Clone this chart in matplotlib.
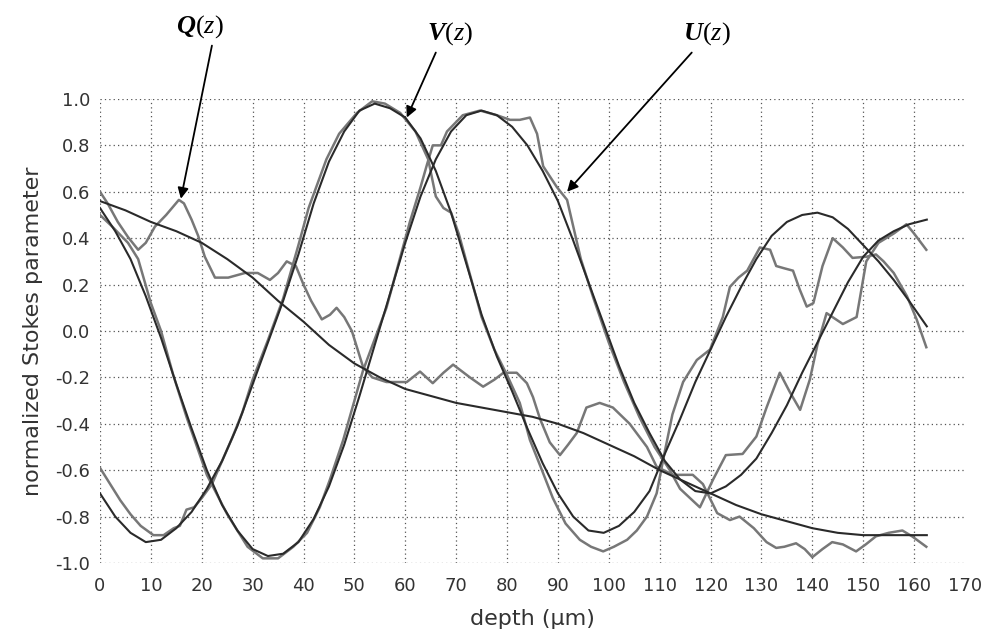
import matplotlib
matplotlib.use('Agg')
import matplotlib.pyplot as plt

# Q(z): fitted curve and measured curve
z_qfit = [0, 5, 10, 15, 20, 25, 30, 35, 40, 45, 50, 55, 60, 65, 70, 75, 80, 85, 90, 95,
          100, 105, 110, 115, 120, 125, 130, 135, 140, 145, 150, 155, 162.5]
q_fit = [0.56, 0.52, 0.47, 0.43, 0.38, 0.31, 0.23, 0.13, 0.04, -0.06, -0.14, -0.20, -0.25,
         -0.28, -0.31, -0.33, -0.35, -0.37, -0.40, -0.44, -0.49, -0.54, -0.60, -0.65, -0.70,
         -0.75, -0.79, -0.82, -0.85, -0.87, -0.88, -0.88, -0.88]

z_qmeas = [0, 1.5, 3.5, 5.5, 7.5, 9, 10.8, 13, 15.5, 16.5, 18, 19.3, 20.6, 22.6, 25.2, 28.5,
           31, 33.4, 35, 36.7, 38.5, 40, 41.5, 43.6, 45.2, 46.5, 48, 49.5, 51.7, 53.5, 56.3,
           60.3, 62.9, 65.4, 67.5, 69.4, 72.7, 75.3, 77.5, 79.3, 81.9, 83.9, 85.1, 86.5, 88.4,
           90.4, 92, 93.7, 95.6, 98.2, 100.8, 104.1, 107.5, 109.4, 112.6, 116.5, 118.5, 121.3,
           123.8, 125.7, 128.5, 131, 132.9, 134.5, 136.8, 138.5, 140, 142, 143.9, 146, 148.6,
           150.5, 152.5, 155, 157.7, 159.6, 162.4]
q_meas = [0.60, 0.55, 0.47, 0.405, 0.35, 0.38, 0.45, 0.50, 0.565, 0.55, 0.48, 0.41, 0.32,
          0.23, 0.23, 0.25, 0.25, 0.22, 0.25, 0.30, 0.28, 0.20, 0.13, 0.05, 0.07, 0.10, 0.06,
          0.0, -0.155, -0.20, -0.22, -0.22, -0.175, -0.225, -0.18, -0.145, -0.20, -0.24, -0.21,
          -0.18, -0.18, -0.225, -0.285, -0.38, -0.48, -0.535, -0.49, -0.44, -0.33, -0.31,
          -0.33, -0.40, -0.50, -0.585, -0.62, -0.62, -0.66, -0.785, -0.815, -0.80, -0.85,
          -0.91, -0.935, -0.93, -0.915, -0.94, -0.975, -0.94, -0.91, -0.92, -0.95, -0.92,
          -0.885, -0.87, -0.86, -0.885, -0.93]

# V(z)
z_vfit = [0, 3, 6, 9, 12, 15, 18, 21, 24, 27, 30, 33, 36, 39, 42, 45, 48, 51, 54, 57, 60,
          63, 66, 69, 72, 75, 78, 81, 84, 87, 90, 93, 96, 99, 102, 105, 108, 111, 114, 117,
          120, 123, 126, 129, 132, 135, 138, 141, 144, 147, 150, 153, 156, 159, 162.5]
v_fit = [-0.70, -0.80, -0.87, -0.91, -0.90, -0.85, -0.78, -0.68, -0.56, -0.41, -0.23, -0.05,
         0.13, 0.33, 0.55, 0.73, 0.86, 0.95, 0.98, 0.96, 0.92, 0.83, 0.69, 0.51, 0.29, 0.07,
         -0.11, -0.26, -0.42, -0.57, -0.70, -0.80, -0.86, -0.87, -0.84, -0.78, -0.69, -0.53,
         -0.38, -0.22, -0.08, 0.06, 0.19, 0.31, 0.41, 0.47, 0.50, 0.51, 0.49, 0.44, 0.37,
         0.30, 0.22, 0.13, 0.02]

z_vmeas = [0, 2, 4, 6, 8, 10.5, 12.5, 14.5, 15.7, 17, 18.5, 20, 22, 24, 26, 28, 30, 33, 36,
           39, 41, 44.5, 47, 50.5, 53.5, 56, 59, 62, 64.5, 66, 67.5, 69, 70.5, 72.5, 75, 77.5,
           80, 82.5, 84.5, 86.5, 89, 91.5, 94.3, 96.5, 98.9, 101, 103.6, 105.5, 107.5, 109.4,
           111, 112.5, 114.6, 117.3, 119.9, 122.4, 123.8, 125.5, 127.2, 129.7, 131.7, 132.9,
           134.5, 136.2, 137.5, 138.9, 140.2, 142, 144, 146, 147.9, 150.6, 152.5, 154, 156,
           158.6, 160.5, 162.4]
v_meas = [-0.59, -0.66, -0.73, -0.79, -0.84, -0.88, -0.88, -0.85, -0.84, -0.77, -0.76, -0.72,
          -0.66, -0.56, -0.46, -0.35, -0.21, -0.04, 0.14, 0.37, 0.53, 0.74, 0.85, 0.94, 0.99,
          0.98, 0.94, 0.86, 0.74, 0.58, 0.53, 0.51, 0.42, 0.26, 0.06, -0.08, -0.19, -0.31,
          -0.47, -0.58, -0.72, -0.83, -0.90, -0.93, -0.95, -0.93, -0.90, -0.86, -0.80, -0.70,
          -0.52, -0.36, -0.22, -0.125, -0.08, 0.06, 0.19, 0.23, 0.26, 0.36, 0.35, 0.28, 0.27,
          0.26, 0.18, 0.105, 0.12, 0.28, 0.40, 0.36, 0.315, 0.32, 0.33, 0.30, 0.25, 0.15,
          0.05, -0.07]

# U(z)
z_ufit = [0, 3, 6, 9, 12, 15, 18, 21, 24, 27, 30, 33, 36, 39, 42, 45, 48, 51, 54, 57, 60,
          63, 66, 69, 72, 75, 78, 81, 84, 87, 90, 93, 96, 99, 102, 105, 108, 111, 114, 117,
          120, 123, 126, 129, 132, 135, 138, 141, 144, 147, 150, 153, 156, 159, 162.5]
u_fit = [0.53, 0.43, 0.31, 0.15, -0.03, -0.23, -0.42, -0.60, -0.75, -0.86, -0.94, -0.97,
         -0.96, -0.91, -0.81, -0.67, -0.49, -0.28, -0.06, 0.16, 0.38, 0.58, 0.74, 0.86, 0.93,
         0.95, 0.93, 0.88, 0.80, 0.69, 0.56, 0.39, 0.21, 0.03, -0.15, -0.31, -0.44, -0.56,
         -0.64, -0.69, -0.70, -0.67, -0.62, -0.55, -0.44, -0.32, -0.18, -0.05, 0.08, 0.21,
         0.32, 0.39, 0.43, 0.46, 0.48]

z_umeas = [0, 2.4, 5.5, 7.5, 10, 12, 14.4, 17, 21, 25, 29, 32, 35, 38, 40.7, 43.2, 45.2, 47.8,
           51.7, 56.3, 60.9, 63, 64.3, 65.4, 67, 68.2, 71.3, 74.7, 78, 80.6, 82.5, 84.5, 85.9,
           87.1, 89.8, 91.8, 94.5, 97, 100, 103, 106, 109, 112, 114, 117.9, 120.5, 123, 126.3,
           129, 131, 133.6, 135.5, 137.6, 139.5, 141, 142.8, 146, 148.7, 150.6, 153, 156,
           158.5, 160, 162.4]
u_meas = [0.50, 0.45, 0.38, 0.31, 0.12, 0.0, -0.19, -0.37, -0.62, -0.79, -0.93, -0.98, -0.98,
          -0.93, -0.87, -0.76, -0.64, -0.47, -0.17, 0.10, 0.47, 0.62, 0.72, 0.80, 0.80, 0.86,
          0.93, 0.95, 0.93, 0.91, 0.91, 0.92, 0.85, 0.71, 0.62, 0.565, 0.31, 0.14, -0.05,
          -0.22, -0.37, -0.50, -0.60, -0.68, -0.76, -0.64, -0.535, -0.53, -0.455, -0.33,
          -0.18, -0.26, -0.34, -0.21, -0.06, 0.077, 0.03, 0.06, 0.30, 0.38, 0.42, 0.46, 0.42,
          0.35]

x_ticks = list(range(0, 171, 10))
y_ticks = [-1.0, -0.8, -0.6, -0.4, -0.2, 0.0, 0.2, 0.4, 0.6, 0.8, 1.0]
y_tick_labels = ['-1.0', '-0.8', '-0.6', '-0.4', '-0.2', '0.0', '0.2', '0.4', '0.6', '0.8', '1.0']

plt.rcParams['axes.unicode_minus'] = False
plt.rcParams['mathtext.fontset'] = 'custom'
plt.rcParams['mathtext.rm'] = 'Liberation Serif'
plt.rcParams['mathtext.it'] = 'Liberation Serif:style=italic'
plt.rcParams['mathtext.bf'] = 'Liberation Serif:style=italic:weight=bold'

fig = plt.figure(figsize=(9.88, 6.41), dpi=100)
ax = fig.add_axes([0.1012, 0.1217, 0.8755, 0.7239])

# dotted grid (no line at 170, like the original)
grid_style = dict(color='#555555', lw=0.9, linestyle=(0, (1, 2.5)), zorder=0)
for x in x_ticks[:-1]:
    ax.axvline(x, **grid_style)
for y in y_ticks:
    ax.axhline(y, **grid_style)

meas_color = '#777777'
fit_color = '#2a2a2a'
ax.plot(z_qmeas, q_meas, color=meas_color, lw=1.8)
ax.plot(z_vmeas, v_meas, color=meas_color, lw=1.8)
ax.plot(z_umeas, u_meas, color=meas_color, lw=1.8)
ax.plot(z_qfit, q_fit, color=fit_color, lw=1.5)
ax.plot(z_vfit, v_fit, color=fit_color, lw=1.5)
ax.plot(z_ufit, u_fit, color=fit_color, lw=1.5)

ax.set_xlim(0, 170)
ax.set_ylim(-1.0, 1.0)
ax.set_xticks(x_ticks)
ax.set_yticks(y_ticks)
ax.set_yticklabels(y_tick_labels)
ax.tick_params(axis='both', length=0, labelsize=13, labelcolor='#333333')
ax.tick_params(axis='x', pad=10)
ax.tick_params(axis='y', pad=7)
for s in ax.spines.values():
    s.set_visible(False)

ax.set_xlabel('depth (μm)', fontsize=16, color='#333333', labelpad=10)
ax.set_ylabel('normalized Stokes parameter', fontsize=16, color='#333333', labelpad=9)

# labels with arrows
arrow = dict(arrowstyle='-|>', color='black', lw=1.3, mutation_scale=16, shrinkA=0, shrinkB=0)
labels = [(r'$\mathbf{Q}(z)$', (19.7, 1.31), (22.0, 1.23), (15.9, 0.57)),
          (r'$\mathbf{V}(z)$', (68.8, 1.28), (66.0, 1.20), (60.3, 0.92)),
          (r'$\mathbf{U}(z)$', (119.3, 1.28), (116.3, 1.20), (91.8, 0.60))]
for txt, tpos, start, tip in labels:
    ax.text(tpos[0], tpos[1], txt, fontsize=19, ha='center', va='center', clip_on=False)
    ax.annotate('', xy=tip, xytext=start, arrowprops=arrow, annotation_clip=False)

fig.savefig('out.png', dpi=100)
